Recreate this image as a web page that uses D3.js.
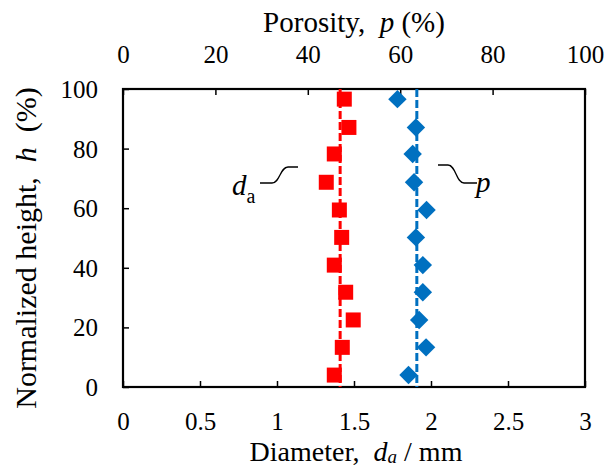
<!DOCTYPE html>
<html>
<head>
<meta charset="utf-8">
<script src="https://cdn.jsdelivr.net/npm/d3@7"></script>
<style>
  body { margin: 0; background: #fff; }
</style>
</head>
<body>
<svg width="608" height="466"></svg>
<script>
// normalized height h (%) for each sampling level
let heights = [96.6, 87.1, 78.2, 68.7, 59.4, 50.2, 40.9, 31.8, 22.5, 13.3, 4.0];
// average particle diameter d_a (mm)
let diameters = [1.437, 1.467, 1.372, 1.32, 1.405, 1.42, 1.372, 1.446, 1.495, 1.424, 1.372];
// porosity p (%)
let porosity = [59.4, 63.4, 62.7, 63.0, 65.7, 63.4, 64.9, 64.9, 64.1, 65.6, 61.8];
// mean values (dashed lines)
let diameterMean = 1.41;
let porosityMean = 63.6;

let dTicks = [0, 0.5, 1, 1.5, 2, 2.5, 3];
let pTicks = [0, 20, 40, 60, 80, 100];
let hTicks = [0, 20, 40, 60, 80, 100];

const FONT = "'Liberation Serif', 'Times New Roman', Times, serif";

let svg = d3.select("svg");
let margin = {left: 123, right: 23, top: 89, bottom: 79};
let width = 608 - margin.left - margin.right,
  height = 466 - margin.top - margin.bottom;

let g = svg.append("g").attr("transform", `translate(${margin.left},${margin.top})`);

let x = d3.scaleLinear().domain([0, 3]).range([0, width]);
let xTop = d3.scaleLinear().domain([0, 100]).range([0, width]);
let y = d3.scaleLinear().domain([0, 100]).range([height, 0]);

let red = "#ff0000", blue = "#0070c0";

// axes, ticks pointing inward
let bottomAxis = g.append("g")
  .attr("transform", `translate(0,${height})`)
  .call(d3.axisBottom(x).tickValues(dTicks).tickFormat(d3.format("")).tickSize(-6).tickSizeOuter(0).tickPadding(27));

let topAxis = g.append("g")
  .call(d3.axisTop(xTop).tickValues(pTicks).tickSize(-6).tickSizeOuter(0).tickPadding(26));

let leftAxis = g.append("g")
  .call(d3.axisLeft(y).tickValues(hTicks).tickSize(-6).tickSizeOuter(0).tickPadding(25));

[bottomAxis, topAxis, leftAxis].forEach(a => {
  a.attr("font-family", null).attr("font-size", null);
  a.select(".domain").remove();
  a.selectAll("line").attr("stroke", "#000").attr("stroke-width", 1.5);
  a.selectAll("text")
    .style("font-family", FONT)
    .style("font-size", "25px")
    .attr("fill", "#000");
});
bottomAxis.selectAll("text").attr("dy", null).attr("y", 43);
topAxis.selectAll("text").attr("dy", null).attr("y", -26);
leftAxis.selectAll("text").attr("dy", "0.34em");

// frame
g.append("rect")
  .attr("width", width).attr("height", height)
  .attr("fill", "none").attr("stroke", "#000").attr("stroke-width", 2.2);

// mean lines
g.append("line")
  .attr("x1", x(diameterMean)).attr("x2", x(diameterMean))
  .attr("y1", 0).attr("y2", height)
  .attr("stroke", red).attr("stroke-width", 3).attr("stroke-dasharray", "8,3");

g.append("line")
  .attr("x1", xTop(porosityMean)).attr("x2", xTop(porosityMean))
  .attr("y1", 0).attr("y2", height)
  .attr("stroke", blue).attr("stroke-width", 3).attr("stroke-dasharray", "8,3");

// markers
let squareGen = d3.symbol().type(d3.symbolSquare).size(225);
let diamondGen = d3.symbol().type(d3.symbolSquare).size(170);

g.selectAll(".sq")
  .data(heights)
  .enter().append("path")
  .attr("class", "sq")
  .attr("d", squareGen())
  .attr("fill", red)
  .attr("transform", (d, i) => `translate(${x(diameters[i])},${y(d)})`);

g.selectAll(".dm")
  .data(heights)
  .enter().append("path")
  .attr("class", "dm")
  .attr("d", diamondGen())
  .attr("fill", blue)
  .attr("transform", (d, i) => `translate(${xTop(porosity[i])},${y(d)}) rotate(45)`);

// annotations
let ann = svg.append("g").style("font-family", FONT);
ann.append("path")
  .attr("d", "M260,183 L272,183 C280,183 280,167 288,167 L298,167")
  .attr("fill", "none").attr("stroke", "#000").attr("stroke-width", 1.3);
let daText = ann.append("text").attr("x", 232).attr("y", 195).style("font-size", "29px");
daText.append("tspan").style("font-style", "italic").text("d");
daText.append("tspan").attr("dy", 8).style("font-size", "20px").text("a");

ann.append("path")
  .attr("d", "M438,165 L448,165 C456,165 456,183 464,183 L477,183")
  .attr("fill", "none").attr("stroke", "#000").attr("stroke-width", 1.3);
ann.append("text").attr("x", 476).attr("y", 192).style("font-size", "29px")
  .style("font-style", "italic").text("p");

// axis titles
let xTitle = svg.append("text")
  .attr("x", 356).attr("y", 461)
  .attr("text-anchor", "middle")
  .style("font-family", FONT).style("font-size", "28px");
xTitle.append("tspan").text("Diameter,\u00a0\u00a0");
xTitle.append("tspan").style("font-style", "italic").text("d");
xTitle.append("tspan").style("font-style", "italic").style("font-size", "19px").attr("dy", 2).text("a");
xTitle.append("tspan").attr("dy", -2).text(" / mm");

let topTitle = svg.append("text")
  .attr("x", 354).attr("y", 32)
  .attr("text-anchor", "middle")
  .style("font-family", FONT).style("font-size", "29px");
topTitle.append("tspan").text("Porosity,\u00a0\u00a0");
topTitle.append("tspan").style("font-style", "italic").text("p");
topTitle.append("tspan").text(" (%)");

let yTitle = svg.append("text")
  .attr("transform", `translate(36,248) rotate(-90)`)
  .attr("text-anchor", "middle")
  .style("font-family", FONT).style("font-size", "30px");
yTitle.append("tspan").text("Normalized height,\u00a0\u00a0");
yTitle.append("tspan").style("font-style", "italic").text("h");
yTitle.append("tspan").text("\u00a0\u00a0(%)");
</script>
</body>
</html>
